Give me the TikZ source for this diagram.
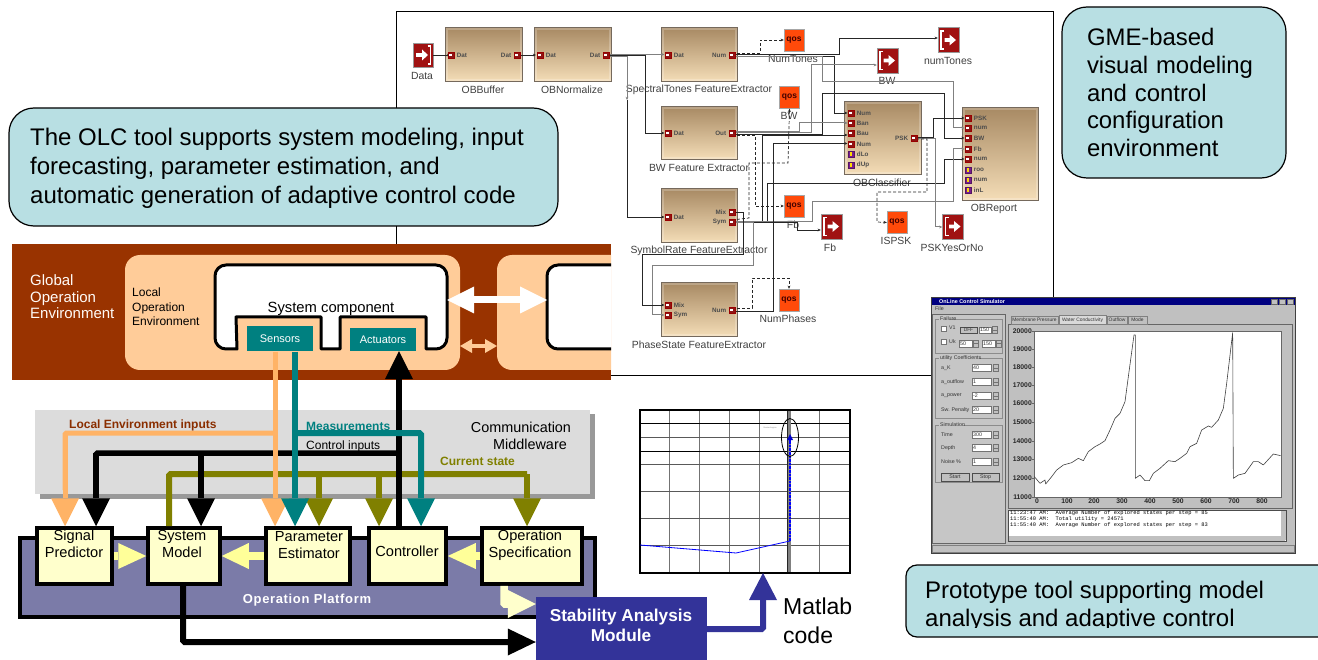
\documentclass[tikz,border=0pt]{standalone}
\usepackage{fontspec}
\setmainfont{Liberation Sans}
\newfontfamily\simmono{Liberation Mono}
\usetikzlibrary{arrows.meta,shapes.geometric}
\definecolor{calloutc}{HTML}{B8DFE3}
\definecolor{brownb}{HTML}{993300}
\definecolor{peach}{HTML}{FFCC99}
\definecolor{peachd}{HTML}{FFB366}
\definecolor{tealc}{HTML}{008080}
\definecolor{olivec}{HTML}{808000}
\definecolor{midg}{HTML}{DCDCDC}
\definecolor{midsh}{HTML}{999999}
\definecolor{platc}{HTML}{7B7BA8}
\definecolor{boxy}{HTML}{FFFFCC}
\definecolor{arry}{HTML}{FFFF99}
\definecolor{stabc}{HTML}{333399}
\definecolor{tanT}{HTML}{A88A64}
\definecolor{tanB}{HTML}{F5DEB8}
\definecolor{tanE}{HTML}{75695C}
\definecolor{portred}{HTML}{8E1414}
\definecolor{iconred}{HTML}{A01212}
\definecolor{qosc}{HTML}{FF4A0A}
\definecolor{purp}{HTML}{7A1E8E}
\definecolor{wing}{HTML}{C0C0C0}
\definecolor{navy}{HTML}{000080}
\newcommand\fsz[2]{\fontsize{#1}{#2}\selectfont}
\tikzset{
 block/.style={rectangle,draw=tanE,line width=1pt,top color=tanT,bottom color=tanB,inner sep=0,
   path picture={\draw[white,opacity=.22,line width=5pt] (path picture bounding box.south west) rectangle (path picture bounding box.north east);}},
 blbl/.style={font=\fsz{10.4}{12},text=black!75,inner sep=0},
 portin/.style={rectangle,fill=portred,draw=red!60!black,line width=.4pt,minimum size=6pt,inner sep=0,
   path picture={\fill[white] ([xshift=-2pt,yshift=-1pt]path picture bounding box.center) rectangle ([xshift=.8pt,yshift=1pt]path picture bounding box.center);}},
 portpar/.style={rectangle,fill=purp,draw=purp!70!black,line width=.4pt,minimum size=6pt,inner sep=0,
   path picture={\fill[yellow!80!orange] ([xshift=-1.2pt,yshift=-1.6pt]path picture bounding box.center) rectangle ([xshift=1.2pt,yshift=1.6pt]path picture bounding box.center);}},
 plbl/.style={font=\fsz{6.3}{7}\bfseries,text=black!70,inner sep=0},
 qosn/.style={rectangle,fill=qosc,draw=black!35,line width=.4pt,minimum width=20pt,minimum height=22pt,inner sep=0,font=\fsz{8.5}{9}\bfseries,text=black!75!red},
 outn/.style={rectangle,fill=iconred,draw=black!40,line width=.4pt,minimum width=21pt,minimum height=25pt,inner sep=0},
 wire/.style={draw=black!85,line width=.7pt,-{Stealth[length=3.2pt,width=2.8pt]}},
 gwire/.style={draw=black!50,line width=1pt,-{Stealth[length=3.2pt,width=2.8pt]}},
 dwire/.style={draw=black!85,line width=.7pt,densely dashed,-{Stealth[length=3.2pt,width=2.8pt]}},
 callout/.style={rectangle,draw=black,line width=1.2pt,fill=calloutc,align=left,inner ysep=0},
 fat/.style={line width=#1,rounded corners=1.5pt,-{Triangle[length=28pt,width=28pt,line width=0pt]}},
 fat/.default=5pt,
 comp/.style={draw=black,line width=3pt,fill=white,line join=round},
 mod/.style={rectangle,fill=boxy,draw=black,line width=3.5pt,inner sep=0,align=center,font=\fsz{14.6}{17}},
 sim/.style={font=\fsz{5.3}{6},inner sep=0,anchor=west,text=black!80},
 field/.style={fill=white,draw=black!55,line width=.4pt},
 btnr/.style={fill=wing,draw=black!70,line width=.5pt},
 spin/.style={fill=wing,draw=black!55,line width=.3pt},
 ylab/.style={font=\fsz{6.8}{7}\bfseries,inner sep=0,anchor=east,text=black!85},
 xlab/.style={font=\fsz{6.8}{7}\bfseries,inner sep=0,text=black!85},
 lbl/.style={inner sep=0,anchor=west,font=\fsz{12}{13}},
}
\newcommand\gblock[8]{\node[block,minimum width=#4pt,minimum height=#5pt] (#1) at (#2,#3) {};
 \node[blbl] (#1-lbl) at (#7,#8) {#6};}
\newcommand\inp[5][portin]{\node[#1] (#2) at (#3,#4) {};
 \node[plbl,anchor=west] (#2-t) at ([xshift=2.5pt]#2.east) {#5};}
\newcommand\outp[4]{\node[portin] (#1) at (#2,#3) {};
 \node[plbl,anchor=east] (#1-t) at ([xshift=-2.5pt]#1.west) {#4};}
\newcommand\qos[6]{\node[qosn] (#1) at (#2,#3) {qos};
 \node[blbl] (#1-lbl) at (#5,#6) {#4};}
\newcommand\outicon[6]{\node[outn] (#1) at (#2,#3) {};
 \draw[white,line width=1.2pt] ([xshift=-4.5pt,yshift=9pt]#1.center) -- ([xshift=-7.5pt,yshift=9pt]#1.center) -- ([xshift=-7.5pt,yshift=-9pt]#1.center) -- ([xshift=-4.5pt,yshift=-9pt]#1.center);
 \fill[white] ([xshift=-4pt,yshift=1.8pt]#1.center) -- ([xshift=1pt,yshift=1.8pt]#1.center) -- ([xshift=1pt,yshift=5.5pt]#1.center) -- ([xshift=7.5pt,yshift=0pt]#1.center) -- ([xshift=1pt,yshift=-5.5pt]#1.center) -- ([xshift=1pt,yshift=-1.8pt]#1.center) -- ([xshift=-4pt,yshift=-1.8pt]#1.center) -- cycle;
 \node[blbl] (#1-lbl) at (#5,#6) {#4};}
\newcommand\spinb[2]{\draw[spin] (#1,#2) rectangle ++(5,3.5); \draw[spin] (#1,#2+3.5) rectangle ++(5,3.5);}
\newcommand\simt[4]{\node[sim] (#1) at (#2,#3) {#4};}
\begin{document}
\begin{tikzpicture}[x=1pt,y=-1pt]
\useasboundingbox (0,0) rectangle (1318,660);
\clip (0,0) rectangle (1318,660);
\fill[white] (0,0) rectangle (1318,660);
%% ---------- GME panel
\draw[black,line width=1pt] (396,12) rectangle (1053,376);
\gblock{obuf}{483.5}{55}{77}{54}{OBBuffer}{483}{90}
\gblock{onorm}{572.5}{55}{77}{54}{OBNormalize}{572}{90}
\gblock{spec}{699}{55}{76}{54}{SpectralTones FeatureExtractor}{699}{90}
\gblock{bwfe}{699}{133.5}{76}{53}{BW Feature Extractor}{699}{168}
\gblock{symr}{699.5}{216}{76}{54}{SymbolRate FeatureExtractor}{699}{251}
\gblock{phas}{699.5}{310}{76}{54}{PhaseState FeatureExtractor}{699}{345}
\gblock{clsf}{882.5}{138.5}{77}{73}{OBClassifier}{882}{183}
\gblock{rept}{1000}{154.5}{76}{93}{OBReport}{994}{209}
\qos{qnt}{794}{40}{NumTones}{793}{59}
\qos{qbw}{789.5}{97.5}{BW}{789}{116}
\qos{qfb}{794}{206}{Fb}{793}{225}
\qos{qis}{897}{222.5}{ISPSK}{896}{241}
\qos{qnp}{789}{300}{NumPhases}{788}{319}
\outicon{onum}{948.5}{40}{numTones}{948}{61}{}
\outicon{obw}{887.5}{60.5}{BW}{887}{81}{}
\outicon{ofb}{831.5}{226.5}{Fb}{830}{248}{}
\outicon{opsk}{953}{226.5}{PSKYesOrNo}{952}{248}{}
\node[outn,minimum width=20pt,minimum height=24pt] (din) at (423,55) {};
\draw[white,line width=1.2pt] ([xshift=4.5pt,yshift=9pt]din.center) -- ([xshift=7.5pt,yshift=9pt]din.center) -- ([xshift=7.5pt,yshift=-9pt]din.center) -- ([xshift=4.5pt,yshift=-9pt]din.center);
\fill[white] ([xshift=-7pt,yshift=1.8pt]din.center) -- ([xshift=-1pt,yshift=1.8pt]din.center) -- ([xshift=-1pt,yshift=5.5pt]din.center) -- ([xshift=5pt,yshift=0pt]din.center) -- ([xshift=-1pt,yshift=-5.5pt]din.center) -- ([xshift=-1pt,yshift=-1.8pt]din.center) -- ([xshift=-7pt,yshift=-1.8pt]din.center) -- cycle;
\node[blbl] (din-lbl) at (422,76) {Data};
% wires
\draw[wire] (din.east) -- (450,55);
\draw[wire] (517,55) -- (536,55);
\draw[gwire] (606,54.5) -- (664.5,54.5);
\draw[wire] (606,55.5) -- (645,55.5) -- (645,133) -- (664.5,133);
\draw[gwire] (606,57) -- (627,57) -- (627,100);
\draw[wire] (627,100) -- (627,217) -- (664.5,217);
\draw[dwire] (732,53) -- (760,53) -- (760,40) -- (qnt.west);
\draw[wire] (732,54.5) -- (839,54.5) -- (839,38) -- (onum.west |- 0,38);
\draw[wire] (732,56) -- (834,56) -- (834,113) -- (847.5,113);
\draw[gwire] (732,57) -- (822,57) -- (822,82) -- (953,82) -- (953,128) -- (964.5,128);
\draw[wire] (732,134) -- (822,134) -- (822,93) -- (944,93) -- (944,138) -- (964.5,138);
\draw[gwire] (732,133) -- (811,133) -- (811,65) -- (obw.west |- 0,65);
\draw[gwire] (732,131.5) -- (799,131.5) -- (799,123) -- (847.5,123);
\draw[dwire] (732,135) -- (755,135) -- (755,206) -- (qfb.west);
\draw[wire] (732,221) -- (762,221) -- (762,135) -- (847.5,135) ;
\draw[wire] (732,222) -- (767,222) -- (767,183) -- (944,183) -- (944,159) -- (964.5,159);
\draw[gwire] (732,222) -- (812,222) -- (812,202) -- (953,202) -- (953,149) -- (964.5,149);
\draw[wire] (732,222) -- (797,222) -- (797,230) -- (ofb.west |- 0,230);
\draw[gwire] (732,223) -- (753,223) -- (753,266) -- (652,266) -- (652,315) -- (664.5,315);
\draw[wire] (732,212) -- (743,212) -- (743,254) -- (642,254) -- (642,305) -- (664.5,305);
\draw[dwire] (732,220) -- (749,218) -- (749,163) -- (788,163) -- (qbw.south);
\draw[wire] (732,311) -- (773,311) -- (773,143.5) -- (847.5,143.5);
\draw[dwire] (732,308) -- (752,308) -- (752,278) -- (789,278) -- (qnp.north);
\draw[wire] (914,137) -- (933,137) -- (933,118) -- (964.5,118);
\draw[gwire] (914,138.5) -- (935,138.5) -- (935,227) -- (opsk.west |- 0,227);
\draw[dwire] (916,139) -- (927,139) -- (927,192) -- (877,192) -- (877,222) -- (qis.west);
% ports
\inp{obuf-i}{451}{55}{Dat}\outp{obuf-o}{517}{55}{Dat}
\inp{onorm-i}{540}{55}{Dat}\outp{onorm-o}{606}{55}{Dat}
\inp{spec-i}{668}{55}{Dat}\outp{spec-o}{732}{55}{Num}
\inp{bw-i}{668}{133}{Dat}\outp{bw-o}{732}{133}{Out}
\inp{sym-i}{668}{217}{Dat}\outp{sym-m}{732}{212}{Mix}\outp{sym-s}{732}{222}{Sym}
\inp{ph-m}{668}{305}{Mix}\inp{ph-s}{668}{315}{Sym}\outp{ph-n}{732}{310}{Num}
\inp{c1}{851}{113}{Num}\inp{c2}{851}{123}{Ban}\inp{c3}{851}{133}{Bau}\inp{c4}{851}{144}{Num}
\inp[portpar]{c5}{851}{154}{dLo}\inp[portpar]{c6}{851}{165}{dUp}
\outp{c-o}{914}{138}{PSK}
\inp{r1}{968}{118}{PSK}\inp{r2}{968}{128}{num}\inp{r3}{968}{138}{BW}\inp{r4}{968}{149}{Fb}\inp{r5}{968}{159}{num}
\inp[portpar]{r6}{968}{170}{roo}\inp[portpar]{r7}{968}{180}{num}\inp[portpar]{r8}{968}{190}{inL}
%% ---------- callouts
\path[fill=calloutc,draw=black,line width=1.2pt,rounded corners=25pt] (9,108) rectangle (558,226);
\node[inner sep=0,anchor=base west,font=\fsz{24}{29}] (olc) at (30,146) {The OLC tool supports system modeling, input};
\node[inner sep=0,anchor=base west,font=\fsz{24}{29}] (olc2) at (30,175) {forecasting, parameter estimation, and};
\node[inner sep=0,anchor=base west,font=\fsz{24}{29}] (olc3) at (30,204) {automatic generation of adaptive control code};
\node[callout,rounded corners=25pt,minimum height=171pt,text width=174pt,inner xsep=25pt,font=\fsz{23.9}{27.6}] (gme) at (1174,92.5)
 {GME-based\\visual modeling\\and control\\configuration\\environment};
%% ---------- operating environment band
\fill[brownb] (12,244) rectangle (611,380);
\fill[peach,rounded corners=15pt] (125,255) rectangle (460,370);
\fill[peach] (611,255) [rounded corners=15pt]-- (497,255) -- (497,370) [sharp corners]-- (611,370) -- cycle;
\draw[comp] (237,349) [rounded corners=11pt]-- (215,349) -- (215,265) -- (447,265) -- (447,349) [sharp corners]-- (426,349) -- (426,317) -- (340,317) -- (340,349) -- (321,349) -- (321,317) -- (236,317) -- cycle;
\path[fill=white] (611,265) [rounded corners=11pt]-- (547,265) -- (547,349) [sharp corners]-- (611,349) -- cycle;
\draw[draw=black,line width=3pt] (611,265) [rounded corners=11pt]-- (547,265) -- (547,349) [sharp corners]-- (611,349);
\node[inner sep=0,font=\fsz{14.8}{17}] (sysc) at (331,308.5) {System component};
\node[inner sep=0,anchor=north west,align=left,font=\fsz{12}{14.5},text=black] (loe) at (132,288) {Local\\Operation\\Environment};
\node[inner sep=0,anchor=north west,align=left,font=\fsz{15}{16.5},text=white!92!peach] (goe) at (30,274.5) {Global\\Operation\\Environment};
\node[rectangle,fill=tealc,minimum width=66pt,minimum height=25pt,inner sep=0,text=white,font=\fsz{11}{12}] (sens) at (280,339) {Sensors};
\node[rectangle,fill=tealc,minimum width=66pt,minimum height=23pt,inner sep=0,text=white,font=\fsz{11}{12}] (actu) at (383,339.5) {Actuators};
\coordinate (cL) at (447,300); \coordinate (cR) at (547,300);
\draw[white,line width=7pt,{Triangle[length=27pt,width=27pt,line width=0pt]}-{Triangle[length=27pt,width=27pt,line width=0pt]}] (cL) -- (cR);
\coordinate (pL) at (460,346); \coordinate (pR) at (497,346);
\draw[peach,line width=4pt,{Triangle[length=12pt,width=14pt,line width=0pt]}-{Triangle[length=12pt,width=14pt,line width=0pt]}] (pL) -- (pR);
%% ---------- middleware
\fill[midsh] (40,414) rectangle (595,499);
\fill[midg] (35,410) rectangle (590,494);
%% ---------- platform
\draw[fill=platc,draw=black,line width=3.5pt] (20,538) rectangle (595,617);
\node[inner sep=0,font=\addfontfeatures{LetterSpace=5}\fsz{13}{15}\bfseries,text=white] (oppl) at (307,600.5) {Operation Platform};
%% ---------- modules
\node[mod,minimum width=75pt,minimum height=56pt] (sig) at (74.5,556) {};
\node[mod,minimum width=72pt,minimum height=56pt] (sysm) at (184,556) {};
\node[mod,minimum width=84pt,minimum height=56pt] (par) at (308,556) {};
\node[mod,minimum width=77pt,minimum height=56pt] (ctl) at (407.5,556) {};
\node[mod,minimum width=100pt,minimum height=56pt] (ops) at (532,556) {};
\node[inner sep=0,align=center,font=\fsz{14.6}{17}] (sig-t) at (74,544) {Signal\\Predictor};
\node[inner sep=0,align=center,font=\fsz{14.6}{17}] (sysm-t) at (182,544) {System\\Model};
\node[inner sep=0,align=center,font=\fsz{14.6}{17}] (par-t) at (309,545) {Parameter\\Estimator};
\node[inner sep=0,align=center,font=\fsz{14.6}{17}] (ctl-t) at (407,551.5) {Controller};
\node[inner sep=0,align=center,font=\fsz{14.6}{17}] (ops-t) at (530,545) {Operation\\Specification};
\draw[arry,line width=8pt,-{Triangle[length=28pt,width=26pt,line width=0pt]}] (sig.east |- 0,556) -- (sysm.west |- 0,556);
\draw[arry,line width=8pt,-{Triangle[length=27pt,width=26pt,line width=0pt]}] (par.west |- 0,556) -- (sysm.east |- 0,556);
\draw[arry,line width=8pt,-{Triangle[length=28pt,width=26pt,line width=0pt]}] (ops.west |- 0,556) -- (ctl.east |- 0,556);
%% ---------- buses
\coordinate (bO) at (169,474);
\draw[olivec,line width=6pt,line cap=butt,rounded corners=1.5pt] (169,526) -- (bO) -- (527,474);
\draw[fat=6pt,olivec] (527,474) -- (ops.north -| 527,0);
\draw[fat=6pt,olivec] (319,474) -- (par.north -| 319,0);
\draw[fat=6pt,olivec] (379,474) -- (ctl.north -| 379,0);
\draw[black,line width=5.5pt,rounded corners=1.5pt] (399,453) -- (96,453) -- (96,490);
\draw[fat=5.5pt,black] (96,453) -- (sig.north -| 96,0);
\draw[fat=5.5pt,black] (201,453) -- (sysm.north -| 201,0);
\draw[fat=5.5pt,black] (ctl.north -| 399,0) -- (actu.south -| 399,0);
\draw[peachd,line width=5pt,rounded corners=1.5pt] (275,433) -- (65,433) -- (65,490);
\draw[fat=5pt,peachd] (65,433) -- (sig.north -| 65,0);
\draw[fat=5pt,peachd] (sens.south -| 275,0) -- (par.north -| 275,0);
\draw[tealc,line width=6pt,rounded corners=1.5pt] (295,433) -- (421,433) -- (421,490);
\draw[fat=6pt,tealc] (421,433) -- (ctl.north -| 421,0);
\draw[fat=6pt,tealc] (sens.south -| 295,0) -- (par.north -| 295,0);
\node[lbl,font=\fsz{12}{13}\bfseries,text=brownb!90!black] (l1) at (69,425.5) {Local Environment inputs};
\node[lbl,font=\fsz{12}{13}\bfseries,text=tealc] (l2) at (306,426.5) {Measurements};
\node[lbl,font=\fsz{12}{13}] (l3) at (306,446.5) {Control inputs};
\node[lbl,font=\fsz{12}{13}\bfseries,text=olivec] (l4) at (440,461.5) {Current state};
\node[inner sep=0,align=center,font=\fsz{14.4}{17}] (l5) at (521,435.5) {Communication\\\hspace*{18pt}Middleware};
%% ---------- stability module
\node[rectangle,fill=stabc,minimum width=171pt,minimum height=70pt,inner sep=0] (stab) at (621.5,632) {};
\node[inner sep=0,align=center,font=\fsz{17.2}{20}\bfseries,text=white] (stab-t) at (621,625) {Stability Analysis\\Module};
\draw[boxy,line width=7.5pt,rounded corners=1pt,-{Triangle[length=28pt,width=28pt,line width=0pt]}] (ops.south -| 504,0) -- (504,604) -- (stab.west |- 0,604);
\draw[black,line width=6pt,rounded corners=1.5pt,-{Triangle[length=28pt,width=27pt,line width=0pt]}] (sysm.south -| 183,0) -- (183,642) -- (stab.west |- 0,642);
%% ---------- matlab plot
\foreach \xx in {669,699,729,759,819} \draw[black!55,line width=.7pt] (\xx,410) -- (\xx,573);
\foreach \yy in {437,464,491,518,545} \draw[black!65,line width=.7pt] (640,\yy) -- (850,\yy);
\foreach \yy in {423,451} \draw[black,line width=.9pt] (640,\yy) -- (850,\yy);
\draw[black!50,line width=4.5pt] (789,410) -- (789,573);
\draw[black!85,line width=.5pt] (787,410) -- (787,573);
\draw[black,line width=1.2pt] (640,410) rectangle (850,573);
\draw[blue,line width=.8pt] (640,545) -- (736,553) -- (790,541);
\draw[blue,line width=2.6pt,densely dotted] (790,541) -- (790,440);
\fill[blue!80!black] (790,434) -- (793,440) -- (787,440) -- cycle;
\draw[black,line width=.8pt] (790,437.5) ellipse [x radius=8.5,y radius=19];
\node[inner sep=0,font=\fsz{2}{3},text=black!50] (plt) at (770,428) {Desired region};
\coordinate (pltb) at (763,573);
\draw[stabc,line width=6pt,rounded corners=1.5pt,-{Triangle[length=27pt,width=28pt,line width=0pt]}] (stab.east |- 0,629) -- (763,629) -- (pltb);
\node[inner sep=0,anchor=west,align=left,font=\fsz{23}{29}] (mat) at (783,621) {Matlab\\code};
%% ---------- simulator window
\draw[fill=wing,draw=black!75,line width=.7pt] (931,297) rectangle (1295,553);
\fill[navy] (932,298) rectangle (1295,305);
\node[inner sep=0,anchor=west,font=\fsz{5.4}{6}\bfseries,text=white] (ttl) at (939,301.5) {OnLine Control Simulator};
\foreach \xx in {1271,1279,1287} \draw[fill=wing,draw=black!60,line width=.3pt] (\xx,299) rectangle ++(6.5,5);
\simt{mf}{935}{309}{File}
\draw[draw=black!60,line width=.6pt,fill=wing!90!white] (932,314) rectangle (1005,543);
\draw[black!45,line width=.4pt] (935,319) rectangle (1002,353);
\draw[black!45,line width=.4pt] (935,358) rectangle (1002,418);
\draw[black!45,line width=.4pt] (935,425) rectangle (1002,482);
\fill[wing!90!white] (939,317) rectangle (951,321);
\fill[wing!90!white] (939,356) rectangle (979,360);
\fill[wing!90!white] (939,423) rectangle (963,427);
\simt{g1}{940}{319}{Failure}\simt{g2}{940}{358}{utility Coefficients}\simt{g3}{940}{425}{Simulation}
\draw[field] (941,326) rectangle ++(5,5); \simt{v1}{949}{328}{V1}
\draw[btnr] (960,327) rectangle (977,333); \node[inner sep=0,font=\fsz{4.8}{5},text=black!80] (dff) at (968.5,330) {DFF};
\draw[field] (979,327) rectangle (991,333); \simt{v150}{980}{330}{150}\spinb{992}{326.5}
\draw[field] (941,339) rectangle ++(5,5); \simt{uk}{949}{342}{Uk}
\draw[field] (959,340) rectangle (972,347); \simt{u50}{960}{343.5}{50}\spinb{973}{340}
\draw[field] (982,340) rectangle (995,347); \simt{u150}{983}{343.5}{150}\spinb{996}{340}
\foreach \yy/\lb/\vl/\nn in {368/a\_K/40/a,382/a\_outflow/1/b,396/a\_power/-2/c,410/Sw. Penalty/20/d}{
 \simt{ul\nn}{941}{\yy}{\lb}
 \draw[field] (972,\yy-3.5) rectangle (991,\yy+3.5); \simt{uv\nn}{973}{\yy}{\vl}\spinb{993}{\yy-3.5}
}
\foreach \yy/\lb/\vl/\nn in {435/Time/300/a,448/Depth/4/b,462/Noise \%/1/c}{
 \simt{sl\nn}{941}{\yy}{\lb}
 \draw[field] (972,\yy-3.5) rectangle (991,\yy+3.5); \simt{sv\nn}{973}{\yy}{\vl}\spinb{993}{\yy-3.5}
}
\draw[btnr] (941,473) rectangle (969,481); \node[inner sep=0,font=\fsz{5.3}{6},text=black!80] (stt) at (955,477) {Start};
\draw[btnr] (972,473) rectangle (999,481); \node[inner sep=0,font=\fsz{5.3}{6},text=black!80] (stp) at (985.5,477) {Stop};
\draw[draw=black!60,line width=.6pt] (1008,324) rectangle (1292,508);
\draw[fill=wing,draw=black!50,line width=.3pt] (1011,316) rectangle (1058,324);
\draw[fill=wing!60!white,draw=black!50,line width=.3pt] (1059,315) rectangle (1106,324);
\draw[fill=wing,draw=black!50,line width=.3pt] (1107,316) rectangle (1127,324);
\draw[fill=wing,draw=black!50,line width=.3pt] (1128,316) rectangle (1147,324);
\foreach \xx/\lb/\nn in {1034.5/Membrane Pressure/a,1082.5/Water Conductivity/b,1117/Outflow/c,1137.5/Mode/d}
 \node[inner sep=0,font=\fsz{4.9}{5},text=black!80] (tab\nn) at (\xx,320) {\lb};
\draw[fill=white,draw=black!60,line width=.7pt] (1034,331) rectangle (1281,497);
\foreach \yy/\lb in {331/20000,349/19000,367/18000,385/17000,403/16000,422/15000,441/14000,459/13000,478/12000,497/11000}{
 \node[ylab] (y\lb) at (1032,\yy) {\lb};
 \draw[black!60,line width=.3pt] (1032,\yy) -- (1035,\yy);
}
\foreach \xx/\lb in {1037/0,1067/100,1094/200,1122/300,1150/400,1178/500,1206/600,1234/700,1262/800}
 \node[xlab] (x\lb) at (\xx,501) {\lb};
\begin{scope}[shift={(925,290)},x=0.33333pt,y=-0.33333pt]
\draw[black!75,line width=.6pt,line join=round] (328,560) -- (345,580) -- (360,570) -- (362,582) -- (380,560) -- (395,540) -- (415,525) -- (440,518) -- (460,505) -- (475,512) -- (490,485) -- (510,470) -- (525,462) -- (540,452) -- (555,420) -- (570,385) -- (585,370) -- (600,335);
\end{scope}
\begin{scope}[shift={(1110,290)},x=0.33333pt,y=-0.33333pt]
\draw[black!75,line width=.6pt,line join=round] (45,335) -- (55,260) -- (72,135) -- (76,135) -- (76,565) -- (90,555) -- (105,572) -- (118,572) -- (130,550) -- (150,535) -- (175,512) -- (195,515) -- (210,505) -- (230,490) -- (240,470) -- (260,460) -- (275,420) -- (295,408) -- (305,412) -- (325,390) -- (340,355) -- (350,280) -- (368,128) -- (370,565) -- (385,555) -- (405,550) -- (430,515) -- (445,515) -- (460,525) -- (490,492) -- (512,497);
\end{scope}
\draw[fill=white,draw=black!70,line width=.6pt] (1008,510) rectangle (1286,541);
\fill[wing] (1009,536) rectangle (1285,540.5);
\fill[wing] (1281,511) rectangle (1285.5,540);
\node[inner sep=0,anchor=north west,align=left,font=\simmono\fsz{5.4}{6}] (lg) at (1010,510.5) {11:23:47 AM:\ \ Average Number of explored states per step = 85\\11:55:40 AM:\ \ Total utility = 24571\\11:55:40 AM:\ \ Average Number of explored states per step = 83};
\draw[black!50,line width=.4pt] (932,545) rectangle (1294,552);
%% ---------- prototype callout
\draw[fill=calloutc,draw=black,line width=1.2pt,rounded corners=11pt] (906,565) rectangle (1330,637);
\begin{scope}
\clip (900,570) rectangle (1318,627.2);
\node[inner sep=0,anchor=base west,font=\fsz{24}{26}] (pr1) at (925,598) {Prototype tool supporting model};
\node[inner sep=0,anchor=base west,font=\fsz{24}{26}] (pr2) at (925,626) {analysis and adaptive control};
\end{scope}
\end{tikzpicture}
\end{document}
